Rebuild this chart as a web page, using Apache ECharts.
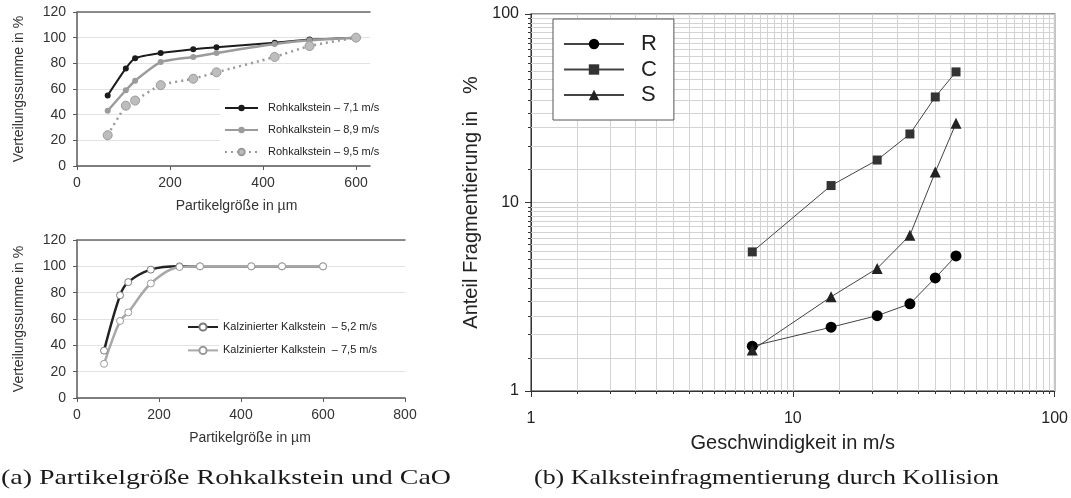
<!DOCTYPE html>
<html>
<head>
<meta charset="utf-8">
<script src="https://cdn.jsdelivr.net/npm/echarts@6/dist/echarts.min.js"></script>
<style>
  html, body { margin: 0; padding: 0; background: #fff; }
  #chart { width: 1071px; height: 498px; }
</style>
</head>
<body>
<div id="chart"></div>
<script>
// Sieve classes (µm) and cumulative distribution (%)
const sieveSizes = [66, 105, 125, 180, 250, 300, 425, 500, 600];
const raw71 = [55, 76, 84, 88, 91, 92.5, 96, 98.5, 100];
const raw89 = [43, 59, 66.5, 81, 85, 88, 95, 98, 100];
const raw95 = [24, 47, 51, 63, 68, 73, 85, 93.5, 100];
const calc52 = [36, 78, 88, 97.5, 100, 100, 100, 100, 100];
const calc75 = [26, 58.5, 65, 87, 99.5, 100, 100, 100, 100];

// Fragmentation share (%) against impact velocity (m/s)
const velocities = [7, 14, 21, 28, 35, 42];
const fragR = [1.73, 2.18, 2.51, 2.90, 3.98, 5.21];
const fragC = [5.47, 12.3, 16.8, 23.1, 36.3, 49.3];
const fragS = [1.65, 3.16, 4.47, 6.7, 14.5, 26.3];

// Tick values
const sizeTicksTop = [0, 200, 400, 600];
const sizeTicksBottom = [0, 200, 400, 600, 800];
const logFine = [1.5, 2, 2.5, 3, 3.5, 4, 4.5, 5, 5.5, 6, 6.5, 7, 7.5, 8, 8.5, 9, 9.5,
                 15, 20, 25, 30, 35, 40, 45, 50, 55, 60, 65, 70, 75, 80, 85, 90, 95];

const SANS = '"Liberation Sans", Arial, sans-serif';
const SERIF = '"Liberation Serif", "DejaVu Serif", serif';

const pairs = (xs, ys) => xs.map((x, i) => [x, ys[i]]);

const chart = echarts.init(document.getElementById('chart'), null, { renderer: 'canvas' });

const axisDark = { lineStyle: { color: '#5a5a5a', width: 1.5 } };

function sizeAxis(grid, max, ticks, shift) {
  return {
    type: 'value', gridIndex: grid, min: 0, max: max,
    axisLine: { show: true, ...axisDark },
    axisTick: { show: true, length: 4, customValues: ticks, lineStyle: { color: '#5a5a5a' } },
    axisLabel: { customValues: ticks, fontSize: 14, color: '#333', margin: 10, fontFamily: SANS },
    splitLine: { show: false },
    name: 'Partikelgröße in µm', nameLocation: 'middle', nameGap: 33,
    nameTextStyle: { fontSize: 14, color: '#333', fontFamily: SANS, padding: [0, 0, 0, shift] }
  };
}
function borderAxis(grid) {
  return {
    type: 'value', gridIndex: grid, position: 'top', min: 0, max: 1,
    axisLine: { show: true, lineStyle: { color: '#6a6a6a', width: 1.5 } },
    axisTick: { show: false }, axisLabel: { show: false }, splitLine: { show: false }
  };
}
function percentAxis(grid) {
  return {
    type: 'value', gridIndex: grid, min: 0, max: 120, interval: 20,
    axisLine: { show: true, ...axisDark },
    axisTick: { show: true, length: 4, lineStyle: { color: '#5a5a5a' } },
    axisLabel: { fontSize: 14, color: '#333', margin: 11, fontFamily: SANS },
    splitLine: { show: true, lineStyle: { color: '#e2e2e2', width: 1 } },
    name: 'Verteilungssumme in %', nameLocation: 'middle', nameGap: 51,
    nameTextStyle: { fontSize: 14, color: '#333', fontFamily: SANS }
  };
}

const logAxisCommon = {
  type: 'log', logBase: 10, min: 1, max: 100,
  axisLine: { show: true, lineStyle: { color: '#333', width: 1 } },
  axisTick: { show: true, length: 6, lineStyle: { color: '#333' } },
  splitLine: { show: true, lineStyle: { color: '#c9c9c9', width: 1 } },
  minorTick: { show: false }, minorSplitLine: { show: false }
};

const fineGrid = [];
logFine.forEach(v => { fineGrid.push([v, 1, 0]); fineGrid.push([1, v, 1]); });

const option = {
  animation: false,
  backgroundColor: '#fff',
  textStyle: { fontFamily: SANS },
  grid: [
    { left: 77, top: 12, width: 293, height: 154 },
    { left: 77, top: 240, width: 328, height: 158 },
    { left: 531, top: 14, width: 526, height: 377, show: true, borderColor: '#6e6e6e', borderWidth: 1.5, backgroundColor: 'transparent' }
  ],
  xAxis: [
    sizeAxis(0, 630, sizeTicksTop, 26),
    borderAxis(0),
    sizeAxis(1, 800, sizeTicksBottom, 18),
    borderAxis(1),
    Object.assign({}, logAxisCommon, {
      gridIndex: 2,
      axisLabel: { fontSize: 16, color: '#222', margin: 20, fontFamily: SANS },
      name: 'Geschwindigkeit in m/s', nameLocation: 'middle', nameGap: 42,
      nameTextStyle: { fontSize: 20, color: '#222', fontFamily: SANS }
    })
  ],
  yAxis: [
    percentAxis(0),
    percentAxis(1),
    Object.assign({}, logAxisCommon, {
      gridIndex: 2,
      axisLabel: { fontSize: 16, color: '#222', margin: 12, fontFamily: SANS },
      name: 'Anteil Fragmentierung in   %', nameLocation: 'middle', nameGap: 50,
      nameTextStyle: { fontSize: 20, color: '#222', fontFamily: SANS }
    })
  ],
  legend: [
    {
      data: ['Rohkalkstein – 7,1 m/s', 'Rohkalkstein – 8,9 m/s', 'Rohkalkstein – 9,5 m/s'],
      orient: 'vertical', left: 224, top: 102, padding: 0,
      itemWidth: 33, itemHeight: 8, itemGap: 10,
      textStyle: { fontSize: 11, lineHeight: 12, color: '#222', fontFamily: SANS, padding: [0, 0, 0, 5] }
    },
    {
      data: ['Kalzinierter Kalkstein  – 5,2 m/s', 'Kalzinierter Kalkstein  – 7,5 m/s'],
      orient: 'vertical', left: 187, top: 321, padding: 0,
      itemWidth: 30, itemHeight: 9, itemGap: 11.4,
      textStyle: { fontSize: 11, lineHeight: 12, color: '#222', fontFamily: SANS }
    },
    {
      data: ['R', 'C', 'S'],
      orient: 'vertical', left: 553, top: 19, padding: [14, 17, 14, 10],
      itemWidth: 60, itemHeight: 13, itemGap: 3.5,
      backgroundColor: '#fff', borderColor: '#555', borderWidth: 1,
      textStyle: { fontSize: 22, lineHeight: 22, color: '#222', fontFamily: SANS, padding: [0, 0, 0, 12] }
    }
  ],
  graphic: [
    { type: 'rect', shape: { x: 220, y: 84, width: 160, height: 78 }, style: { fill: '#fff' }, z: 1 },
    { type: 'rect', shape: { x: 219, y: 314, width: 186, height: 50 }, style: { fill: '#fff' }, z: 1 },
    { type: 'text', x: 1, y: 467, scaleX: 1.27, z: 10,
      style: { text: '(a) Partikelgröße Rohkalkstein und CaO', font: '22px ' + SERIF, fill: '#1a1a1a', verticalAlign: 'top' } },
    { type: 'text', x: 534, y: 467, scaleX: 1.18, z: 10,
      style: { text: '(b) Kalksteinfragmentierung durch Kollision', font: '22px ' + SERIF, fill: '#1a1a1a', verticalAlign: 'top' } }
  ],
  series: [
    {
      name: 'Rohkalkstein – 7,1 m/s', type: 'line', xAxisIndex: 0, yAxisIndex: 0, z: 4,
      data: pairs(sieveSizes, raw71), smooth: 0.2,
      lineStyle: { color: '#1c1c1c', width: 2 },
      symbol: 'circle', symbolSize: 6, itemStyle: { color: '#1c1c1c' }
    },
    {
      name: 'Rohkalkstein – 8,9 m/s', type: 'line', xAxisIndex: 0, yAxisIndex: 0, z: 4,
      data: pairs(sieveSizes, raw89), smooth: 0.2,
      lineStyle: { color: '#9b9b9b', width: 2.5 },
      symbol: 'circle', symbolSize: 6, itemStyle: { color: '#9b9b9b' }
    },
    {
      name: 'Rohkalkstein – 9,5 m/s', type: 'line', xAxisIndex: 0, yAxisIndex: 0, z: 4,
      data: pairs(sieveSizes, raw95), smooth: 0.2,
      lineStyle: { color: '#9a9a9a', width: 2.5, type: [2, 4] },
      symbol: 'circle', symbolSize: 9, itemStyle: { color: '#bdbdbd', borderColor: '#9a9a9a', borderWidth: 1 }
    },
    {
      name: 'Kalzinierter Kalkstein  – 5,2 m/s', type: 'line', xAxisIndex: 2, yAxisIndex: 1, z: 4,
      data: pairs(sieveSizes, calc52), smooth: 0.35,
      lineStyle: { color: '#222', width: 2.5 },
      symbol: 'circle', symbolSize: 7, itemStyle: { color: '#fff', borderColor: '#7a7a7a', borderWidth: 1 }
    },
    {
      name: 'Kalzinierter Kalkstein  – 7,5 m/s', type: 'line', xAxisIndex: 2, yAxisIndex: 1, z: 4,
      data: pairs(sieveSizes, calc75), smooth: 0.35,
      lineStyle: { color: '#a8a8a8', width: 2.5 },
      symbol: 'circle', symbolSize: 7, itemStyle: { color: '#fff', borderColor: '#9a9a9a', borderWidth: 1 }
    },
    {
      // fine log grid (half steps inside each decade) with small axis ticks
      type: 'custom', xAxisIndex: 4, yAxisIndex: 2, z: 1, silent: true, clip: false,
      data: fineGrid,
      renderItem: function (params, api) {
        const cs = params.coordSys;
        const p = api.coord([api.value(0), api.value(1)]);
        const gridStyle = { stroke: '#d3d3d3', lineWidth: 1 };
        const tickStyle = { stroke: '#333', lineWidth: 1 };
        if (api.value(2) === 0) {
          const x = Math.round(p[0]) + 0.5;
          const yb = cs.y + cs.height;
          return { type: 'group', children: [
            { type: 'line', shape: { x1: x, y1: cs.y, x2: x, y2: yb }, style: gridStyle },
            { type: 'line', shape: { x1: x, y1: yb, x2: x, y2: yb + 3 }, style: tickStyle }
          ] };
        }
        const y = Math.round(p[1]) + 0.5;
        return { type: 'group', children: [
          { type: 'line', shape: { x1: cs.x, y1: y, x2: cs.x + cs.width, y2: y }, style: gridStyle },
          { type: 'line', shape: { x1: cs.x - 3, y1: y, x2: cs.x, y2: y }, style: tickStyle }
        ] };
      }
    },
    {
      name: 'R', type: 'line', xAxisIndex: 4, yAxisIndex: 2, z: 5,
      data: pairs(velocities, fragR),
      lineStyle: { color: '#444', width: 1 },
      symbol: 'circle', symbolSize: 11, itemStyle: { color: '#000' }
    },
    {
      name: 'C', type: 'line', xAxisIndex: 4, yAxisIndex: 2, z: 5,
      data: pairs(velocities, fragC),
      lineStyle: { color: '#444', width: 1 },
      symbol: 'rect', symbolSize: 9, itemStyle: { color: '#333' }
    },
    {
      name: 'S', type: 'line', xAxisIndex: 4, yAxisIndex: 2, z: 5,
      data: pairs(velocities, fragS),
      lineStyle: { color: '#444', width: 1 },
      symbol: 'triangle', symbolSize: 11, itemStyle: { color: '#222' }
    }
  ]
};

chart.setOption(option);
</script>
</body>
</html>
